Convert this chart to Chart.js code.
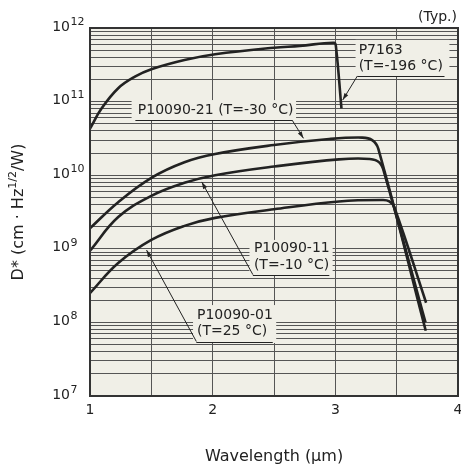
<!DOCTYPE html>
<html>
<head>
<meta charset="utf-8">
<script src="https://cdn.jsdelivr.net/npm/chart.js@4"></script>
<style>
  body { margin: 0; background: #fff; }
  canvas { display: block; }
</style>
</head>
<body>
<canvas id="myChart" width="461" height="469"></canvas>
<script>
const ctx = document.getElementById('myChart');

// wavelength (um) / D* values
const wlP7163 = [1.0, 1.095, 1.23, 1.366, 1.5, 1.77, 2.02, 2.5, 2.71, 2.99, 3.005, 3.05];
const dP7163 = [4.3e10, 8.1e10, 1.52e11, 2.18e11, 2.75e11, 3.67e11, 4.4e11, 5.4e11, 5.7e11, 6.3e11, 5.6e11, 8.1e10];

const wl21 = [1.0, 1.23, 1.5, 1.77, 2.02, 2.5, 2.95, 3.22, 3.30, 3.35, 3.737];
const d21 = [1.9e9, 4.3e9, 9.2e9, 1.5e10, 1.94e10, 2.57e10, 3.1e10, 3.24e10, 3.0e10, 2.3e10, 7.7e7];

const wl11 = [1.0, 1.23, 1.5, 1.77, 2.02, 2.5, 3.03, 3.28, 3.36, 3.40, 3.735];
const d11 = [9.4e8, 2.7e9, 5.25e9, 7.9e9, 1.0e10, 1.31e10, 1.64e10, 1.66e10, 1.48e10, 1.06e10, 1.0e8];

const wl01 = [1.0, 1.23, 1.5, 1.77, 2.02, 2.5, 3.03, 3.39, 3.44, 3.48, 3.74];
const d01 = [2.5e8, 6.4e8, 1.32e9, 2.05e9, 2.63e9, 3.45e9, 4.4e9, 4.6e9, 4.4e9, 3.7e9, 1.85e8];

const xTickLabels = [1, 2, 3, 4];
const yExponents = [7, 8, 9, 10, 11, 12];

const FONT = "'DejaVu Sans', Verdana, sans-serif";
const INK = '#222';
const PLOT_BG = '#f0efe7';

const toPts = (xs, ys) => xs.map((x, i) => ({ x: x, y: ys[i] }));

// gridline values 1..9 x 10^n
const yGrid = [];
yExponents.forEach((e, i) => {
    if (i === yExponents.length - 1) { yGrid.push(Math.pow(10, e)); return; }
    for (let m = 1; m <= 9; m++) yGrid.push(m * Math.pow(10, e));
});

// callout labels, positions in data units
const callouts = [
    { lines: ['P7163', '(T=-196 °C)'], textX: 3.19, lineY: [5.0e11, 3.05e11],
      box: [3.165, 6.9e11, 3.93, 2.2e11], under: [3.18, 3.89, 2.23e11],
      from: [3.18, 2.23e11], tip: [3.06, 1.05e11] },
    { lines: ['P10090-21 (T=-30 °C)'], textX: 1.39, lineY: [7.7e10],
      box: [1.339, 1.05e11, 2.68, 5.45e10], under: [1.37, 2.648, 5.6e10],
      from: [2.648, 5.6e10], tip: [2.74, 3.17e10] },
    { lines: ['P10090-11', '(T=-10 °C)'], textX: 2.336, lineY: [1.0e9, 6.0e8],
      box: [2.30, 1.32e9, 2.978, 4.3e8], under: [2.328, 2.951, 4.45e8],
      from: [2.328, 4.45e8], tip: [1.911, 8.1e9] },
    { lines: ['P10090-01', '(T=25 °C)'], textX: 1.872, lineY: [1.23e8, 7.5e7],
      box: [1.84, 1.72e8, 2.518, 5.25e7], under: [1.867, 2.49, 5.5e7],
      from: [1.867, 5.5e7], tip: [1.461, 9.6e8] }
];

const line = (label, xs, ys) => ({
    label: label,
    data: toPts(xs, ys),
    borderColor: INK,
    borderWidth: 2.6,
    pointRadius: 0,
    fill: false,
    tension: 0.4
});

const decor = {
    id: 'decor',
    beforeDraw(chart) {
        const c = chart.ctx, a = chart.chartArea;
        c.save();
        c.fillStyle = '#fff';
        c.fillRect(0, 0, chart.width, chart.height);
        c.fillStyle = PLOT_BG;
        c.fillRect(a.left, a.top, a.right - a.left, a.bottom - a.top);
        c.restore();
    },
    afterDatasetsDraw(chart) {
        const c = chart.ctx, a = chart.chartArea;
        const xs = chart.scales.x, ys = chart.scales.y;
        const px = v => xs.getPixelForValue(v);
        const py = v => ys.getPixelForValue(v);

        c.save();
        // callouts
        callouts.forEach(cl => {
            c.fillStyle = PLOT_BG;
            const x0 = px(cl.box[0]), y0 = py(cl.box[1]);
            c.fillRect(x0, y0, px(cl.box[2]) - x0, py(cl.box[3]) - y0);

            c.fillStyle = INK;
            c.font = '14px ' + FONT;
            c.textAlign = 'left';
            c.textBaseline = 'middle';
            cl.lines.forEach((t, i) => c.fillText(t, px(cl.textX), py(cl.lineY[i])));

            c.strokeStyle = INK;
            c.lineWidth = 1;
            const uy = Math.round(py(cl.under[2])) + 0.5;
            c.beginPath();
            c.moveTo(px(cl.under[0]), uy);
            c.lineTo(px(cl.under[1]), uy);
            c.stroke();

            const fx = px(cl.from[0]), fy = py(cl.from[1]);
            const tx = px(cl.tip[0]), ty = py(cl.tip[1]);
            c.beginPath();
            c.moveTo(fx, fy);
            c.lineTo(tx, ty);
            c.stroke();
            const ang = Math.atan2(ty - fy, tx - fx);
            c.beginPath();
            c.moveTo(tx, ty);
            c.lineTo(tx - 7 * Math.cos(ang) + 2.2 * Math.sin(ang), ty - 7 * Math.sin(ang) - 2.2 * Math.cos(ang));
            c.lineTo(tx - 7 * Math.cos(ang) - 2.2 * Math.sin(ang), ty - 7 * Math.sin(ang) + 2.2 * Math.cos(ang));
            c.closePath();
            c.fill();
        });

        // frame
        c.strokeStyle = '#333';
        c.lineWidth = 2;
        c.strokeRect(a.left, a.top, a.right - a.left, a.bottom - a.top);

        // y tick labels 10^n
        c.fillStyle = INK;
        yExponents.forEach(e => {
            const y = py(Math.pow(10, e));
            c.font = '14px ' + FONT;
            c.textAlign = 'right';
            c.textBaseline = 'middle';
            c.fillText('10', 70, y - 1);
            c.font = '11px ' + FONT;
            c.textAlign = 'left';
            c.fillText(String(e), 70.5, y - 6);
        });

        // x tick labels
        c.font = '14px ' + FONT;
        c.textAlign = 'center';
        c.textBaseline = 'middle';
        xTickLabels.forEach(v => c.fillText(String(v), px(v), 410));

        // x title
        c.font = '16px ' + FONT;
        c.fillText('Wavelength (\u00b5m)', (a.left + a.right) / 2, 457);

        // (Typ.)
        c.font = '14px ' + FONT;
        c.textAlign = 'right';
        c.fillText('(Typ.)', 457, 17);

        // y title with superscript
        const parts = [['D* (cm \u00b7 Hz', 16, 0], ['1/2', 11, -6], ['/W)', 16, 0]];
        let total = 0;
        parts.forEach(p => { c.font = p[1] + 'px ' + FONT; total += c.measureText(p[0]).width; });
        c.translate(19, (a.top + a.bottom) / 2);
        c.rotate(-Math.PI / 2);
        c.textAlign = 'left';
        let cx = -total / 2;
        parts.forEach(p => {
            c.font = p[1] + 'px ' + FONT;
            c.fillText(p[0], cx, p[2]);
            cx += c.measureText(p[0]).width;
        });
        c.restore();
    }
};

new Chart(ctx, {
    type: 'line',
    data: {
        datasets: [
            line('P7163', wlP7163, dP7163),
            line('P10090-21', wl21, d21),
            line('P10090-11', wl11, d11),
            line('P10090-01', wl01, d01)
        ]
    },
    options: {
        responsive: false,
        animation: false,
        layout: { padding: { left: 0, right: 3, top: 28, bottom: 0 } },
        plugins: {
            legend: { display: false },
            tooltip: { enabled: false }
        },
        scales: {
            x: {
                type: 'linear',
                min: 1,
                max: 4,
                ticks: { display: false, stepSize: 0.5 },
                grid: { color: '#555', lineWidth: 1, drawTicks: false },
                border: { display: false },
                afterFit: s => { s.height = 73; }
            },
            y: {
                type: 'logarithmic',
                min: 1e7,
                max: 1e12,
                afterBuildTicks: s => { s.ticks = yGrid.map(v => ({ value: v })); },
                ticks: { display: false },
                grid: { color: '#555', lineWidth: 1, drawTicks: false },
                border: { display: false },
                afterFit: s => { s.width = 90; }
            }
        }
    },
    plugins: [decor]
});
</script>
</body>
</html>
